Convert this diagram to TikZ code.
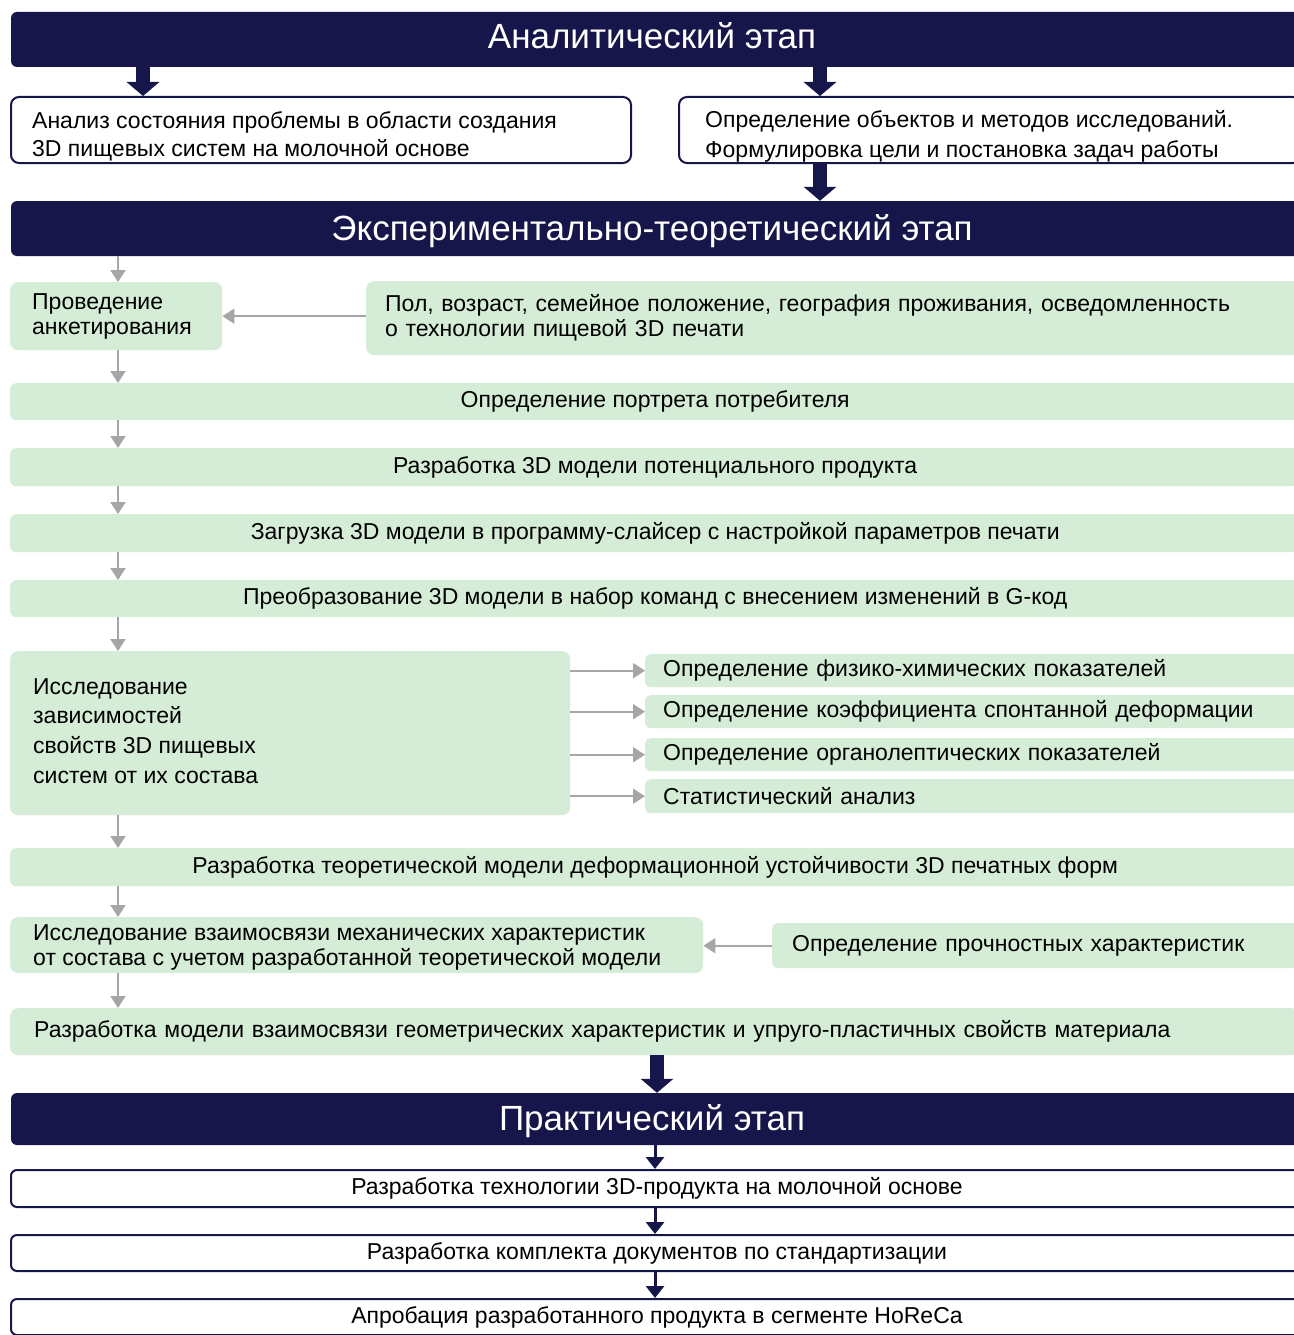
\documentclass[tikz,border=0pt]{standalone}
\usepackage{fontspec}
\setmainfont{Liberation Sans}
\usetikzlibrary{arrows.meta,calc}
\definecolor{navy}{HTML}{16164A}
\definecolor{lgreen}{HTML}{D5EDD6}
\definecolor{agray}{HTML}{A6A6A6}
\begin{document}
\begin{tikzpicture}[x=1pt,y=-1pt,
  every node/.style={font=\fontsize{23}{25}\selectfont, text=black},
  hdr/.style={fill=navy, rounded corners=6pt, minimum width=1290pt, inner sep=0pt},
  htext/.style={text=white, font=\fontsize{35}{38}\selectfont, inner sep=0pt},
  wbox/.style={fill=white, draw=navy, line width=2pt, rounded corners=8pt, inner ysep=0pt, align=left},
  gbox/.style={fill=lgreen, rounded corners=8pt, inner ysep=0pt, align=left},
  rowbox/.style={fill=lgreen, rounded corners=6pt, inner sep=0pt, minimum width=1290pt},
  ltext/.style={anchor=west, align=left, inner sep=0pt},
  garr/.style={draw=agray, line width=2pt, -{Triangle[width=15pt,length=12pt]}},
  narr/.style={draw=navy, line width=14pt, -{Triangle[width=32pt,length=14pt]}},
  sarr/.style={draw=navy, line width=3pt, -{Triangle[width=18pt,length=12pt]}}
]
\useasboundingbox (0,0) rectangle (1293,1335);
\fill[white] (0,0) rectangle (1293,1335);
\coordinate (cg) at (118,0);
\coordinate (cA) at (143,0);
\coordinate (cB) at (820,0);
\coordinate (cC) at (657,0);
\coordinate (cD) at (655,0);

% Analytic stage
\node[hdr, minimum height=55pt] (h1) at (656,39.5) {};
\node[htext] (h1t) at (652,35.5) {Аналитический этап};
\node[wbox, anchor=north west, minimum height=66pt, minimum width=620pt] (a1) at (10,96) {};
\node[ltext, font=\fontsize{23}{28}\selectfont] (a1t) at (32,136)
  {Анализ состояния проблемы в области создания\\3D пищевых систем на молочной основе};
\node[wbox, anchor=north west, minimum height=66pt, minimum width=622pt] (a2) at (678,96) {};
\node[ltext, font=\fontsize{23}{30}\selectfont] (a2t) at (705,136)
  {Определение объектов и методов исследований.\\Формулировка цели и постановка задач работы};

% Experimental stage
\node[hdr, minimum height=55pt] (h2) at (656,228.5) {};
\node[htext] (h2t) at (652,231) {Экспериментально-теоретический этап};

\node[gbox, anchor=north west, minimum height=68pt, text width=168pt, inner xsep=22pt] (s1) at (10,282)
  {Проведение\\анкетирования};
\node[gbox, anchor=north west, minimum height=74pt, text width=900pt, inner xsep=19pt] (s2) at (366,281)
  {Пол, возраст, семейное положение, география проживания, осведомленность\\о технологии пищевой 3D печати};

\node[rowbox, anchor=north west, minimum height=37pt] (r1) at (10,383) {Определение портрета потребителя};
\node[rowbox, anchor=north west, minimum height=38pt] (r2) at (10,448) {Разработка 3D модели потенциального продукта};
\node[rowbox, anchor=north west, minimum height=38pt] (r3) at (10,514) {Загрузка 3D модели в программу-слайсер с настройкой параметров печати};
\node[rowbox, anchor=north west, minimum height=37pt] (r4) at (10,580) {Преобразование 3D модели в набор команд с внесением изменений в G-код};

\node[gbox, anchor=north west, minimum height=164pt, minimum width=560pt] (big) at (10,651) {};
\node[ltext, font=\fontsize{23}{29.7}\selectfont] (bigt) at (33,731)
  {Исследование\\зависимостей\\свойств 3D пищевых\\систем от их состава};
\node[gbox, rounded corners=5pt, anchor=north west, minimum height=33pt, text width=620pt, inner xsep=18pt] (q1) at (645,654)
  {Определение физико-химических показателей};
\node[gbox, rounded corners=5pt, anchor=north west, minimum height=33pt, text width=620pt, inner xsep=18pt] (q2) at (645,695)
  {Определение коэффициента спонтанной деформации};
\node[gbox, rounded corners=5pt, anchor=north west, minimum height=33pt, text width=620pt, inner xsep=18pt] (q3) at (645,738)
  {Определение органолептических показателей};
\node[gbox, rounded corners=5pt, anchor=north west, minimum height=34pt, text width=620pt, inner xsep=18pt] (q4) at (645,779)
  {Статистический анализ};

\node[rowbox, anchor=north west, minimum height=38pt] (r5) at (10,848)
  {Разработка теоретической модели деформационной устойчивости 3D печатных форм};

\node[gbox, anchor=north west, minimum height=56pt, minimum width=693pt] (m1) at (10,917) {};
\node[ltext] (m1t) at (33,947)
  {Исследование взаимосвязи механических характеристик\\от состава с учетом разработанной теоретической модели};
\node[gbox, rounded corners=5pt, anchor=north west, minimum height=45pt, text width=490pt, inner xsep=20pt] (m2) at (772,923)
  {Определение прочностных характеристик};

\node[gbox, anchor=north west, minimum height=47pt, text width=1242pt, inner xsep=24pt] (r6) at (10,1008)
  {Разработка модели взаимосвязи геометрических характеристик и упруго-пластичных свойств материала};

% Practical stage
\node[hdr, minimum height=52pt] (h3) at (656,1119) {};
\node[htext] (h3t) at (652,1121) {Практический этап};
\node[wbox, anchor=north west, rounded corners=6pt, minimum height=37pt, minimum width=1292pt, align=center] (p1) at (10,1169)
  {Разработка технологии 3D-продукта на молочной основе};
\node[wbox, anchor=north west, rounded corners=6pt, minimum height=36pt, minimum width=1292pt, align=center] (p2) at (10,1234)
  {Разработка комплекта документов по стандартизации};
\node[wbox, anchor=north west, rounded corners=6pt, minimum height=36pt, minimum width=1292pt, align=center] (p3) at (10,1298)
  {Апробация разработанного продукта в сегменте HoReCa};

% thick navy arrows
\draw[narr] (cA |- h1.south) -- (cA |- a1.north);
\draw[narr] (cB |- h1.south) -- (cB |- a2.north);
\draw[narr] (cB |- a2.south) -- (cB |- h2.north);
\draw[narr] (cC |- r6.south) -- (cC |- h3.north);

% gray arrows
\draw[garr] (cg |- h2.south) -- (cg |- s1.north);
\draw[garr] (s2.west |- s1.east) -- (s1.east);
\draw[garr] (cg |- s1.south) -- (cg |- r1.north);
\draw[garr] (cg |- r1.south) -- (cg |- r2.north);
\draw[garr] (cg |- r2.south) -- (cg |- r3.north);
\draw[garr] (cg |- r3.south) -- (cg |- r4.north);
\draw[garr] (cg |- r4.south) -- (cg |- big.north);
\draw[garr] (big.east |- q1.west) -- (q1.west);
\draw[garr] (big.east |- q2.west) -- (q2.west);
\draw[garr] (big.east |- q3.west) -- (q3.west);
\draw[garr] (big.east |- q4.west) -- (q4.west);
\draw[garr] (cg |- big.south) -- (cg |- r5.north);
\draw[garr] (cg |- r5.south) -- (cg |- m1.north);
\draw[garr] (m2.west) -- (m2.west -| m1.east);
\draw[garr] (cg |- m1.south) -- (cg |- r6.north);

% small navy arrows
\draw[sarr] (cD |- h3.south) -- (cD |- p1.north);
\draw[sarr] (cD |- p1.south) -- (cD |- p2.north);
\draw[sarr] (cD |- p2.south) -- (cD |- p3.north);
\end{tikzpicture}
\end{document}
